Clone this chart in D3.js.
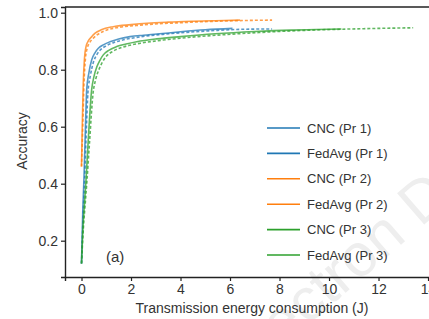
<!DOCTYPE html>
<html>
<head>
<meta charset="utf-8">
<script src="https://cdn.jsdelivr.net/npm/d3@7"></script>
<style>
  body { margin: 0; background: #fff; }
  svg { display: block; font-family: "Liberation Sans", Arial, sans-serif; }
</style>
</head>
<body>
<svg id="chart" width="429" height="319"></svg>
<script>
// series: energy (J) and accuracy
const cncPr1Energy = [0, 0.05, 0.1, 0.16, 0.21, 0.3, 0.41, 0.55, 0.68, 0.9, 1.15, 1.5, 1.96, 2.5, 3.04, 4.0, 5.0, 6.1];
const cncPr1Acc = [0.12, 0.3, 0.42, 0.6, 0.73, 0.79, 0.834, 0.86, 0.875, 0.888, 0.898, 0.908, 0.916, 0.921, 0.925, 0.933, 0.94, 0.945];
const fedPr1Energy = [0, 0.07, 0.13, 0.2, 0.26, 0.36, 0.48, 0.62, 0.77, 1.0, 1.3, 1.7, 2.2, 2.8, 3.4, 4.4, 5.5, 6.6, 7.7];
const fedPr1Acc = [0.12, 0.3, 0.42, 0.6, 0.72, 0.78, 0.826, 0.853, 0.87, 0.884, 0.895, 0.905, 0.913, 0.92, 0.925, 0.932, 0.938, 0.942, 0.943];

const cncPr2Energy = [0, 0.03, 0.07, 0.12, 0.18, 0.27, 0.4, 0.55, 0.8, 1.28, 2.0, 2.64, 3.5, 4.5, 5.4, 6.4];
const cncPr2Acc = [0.46, 0.6, 0.75, 0.84, 0.88, 0.9, 0.915, 0.928, 0.94, 0.951, 0.958, 0.963, 0.967, 0.97, 0.972, 0.974];
const fedPr2Energy = [0, 0.05, 0.1, 0.16, 0.23, 0.33, 0.47, 0.63, 0.9, 1.4, 2.2, 2.9, 3.8, 4.8, 5.8, 6.8, 7.7];
const fedPr2Acc = [0.46, 0.6, 0.75, 0.84, 0.875, 0.895, 0.91, 0.922, 0.935, 0.947, 0.955, 0.96, 0.964, 0.968, 0.971, 0.973, 0.974];

const cncPr3Energy = [0, 0.06, 0.12, 0.18, 0.27, 0.41, 0.5, 0.62, 0.75, 0.88, 1.1, 1.42, 1.8, 2.23, 3.04, 4.0, 5.4, 7.0, 8.44, 9.5, 10.5];
const cncPr3Acc = [0.12, 0.25, 0.33, 0.41, 0.55, 0.73, 0.775, 0.81, 0.834, 0.852, 0.868, 0.881, 0.89, 0.898, 0.908, 0.916, 0.926, 0.934, 0.939, 0.941, 0.943];
const fedPr3Energy = [0, 0.08, 0.15, 0.22, 0.32, 0.47, 0.57, 0.7, 0.84, 0.98, 1.22, 1.56, 1.96, 2.45, 3.3, 4.3, 5.8, 7.5, 9.0, 10.5, 12.0, 13.4];
const fedPr3Acc = [0.12, 0.25, 0.33, 0.41, 0.54, 0.72, 0.765, 0.8, 0.826, 0.845, 0.862, 0.876, 0.886, 0.894, 0.904, 0.913, 0.923, 0.932, 0.938, 0.942, 0.945, 0.947];

const seriesNames = ["CNC (Pr 1)", "FedAvg (Pr 1)", "CNC (Pr 2)", "FedAvg (Pr 2)", "CNC (Pr 3)", "FedAvg (Pr 3)"];
const seriesColors = ["#1f77b4", "#1f77b4", "#ff7f0e", "#ff7f0e", "#2ca02c", "#2ca02c"];
const xTicks = [0, 2, 4, 6, 8, 10, 12, 14];
const yTicks = [0.2, 0.4, 0.6, 0.8, 1.0];

const series = [
    [cncPr1Energy, cncPr1Acc], [fedPr1Energy, fedPr1Acc],
    [cncPr2Energy, cncPr2Acc], [fedPr2Energy, fedPr2Acc],
    [cncPr3Energy, cncPr3Acc], [fedPr3Energy, fedPr3Acc]
].map((s, i) => ({
    name: seriesNames[i],
    color: seriesColors[i],
    dashed: i % 2 == 1,
    points: s[0].map((e, j) => [e, s[1][j]])
}));

const plotLeft = 65, plotTop = 7, plotRight = 430, plotBottom = 277;
const svg = d3.select("#chart");

// faint watermark behind everything
svg.append("text")
    .attr("transform", "translate(282,348) rotate(-41)")
    .attr("font-size", 60)
    .attr("fill", "#eeeeee")
    .text("ectron D");

const xScale = d3.scaleLinear().domain([-0.667, 14.08]).range([plotLeft, plotRight]);
const yScale = d3.scaleLinear().domain([0.0726, 1.02]).range([plotBottom, plotTop]);

// curves
const line = d3.line()
    .x(d => xScale(d[0]))
    .y(d => yScale(d[1]))
    .curve(d3.curveMonotoneX);

svg.append("g").selectAll("path")
    .data(series)
    .enter()
    .append("path")
    .attr("d", d => line(d.points))
    .attr("fill", "none")
    .attr("stroke", d => d.color)
    .attr("stroke-width", 1.6)
    .attr("stroke-opacity", 0.75)
    .attr("stroke-dasharray", d => d.dashed ? "3,2" : null);

// frame top line
svg.append("line")
    .attr("x1", plotLeft).attr("x2", plotRight)
    .attr("y1", plotTop).attr("y2", plotTop)
    .attr("stroke", "#222").attr("stroke-width", 1.4);

// axes
const xAxis = svg.append("g")
    .attr("transform", `translate(0,${plotBottom})`)
    .call(d3.axisBottom(xScale).tickValues(xTicks).tickSize(4).tickPadding(3).tickFormat(d3.format("d")));
const yAxis = svg.append("g")
    .attr("transform", `translate(${plotLeft},0)`)
    .call(d3.axisLeft(yScale).tickValues(yTicks).tickSize(4).tickPadding(3).tickFormat(d3.format(".1f")));

[xAxis, yAxis].forEach(ax => {
    ax.select(".domain").attr("stroke", "#222").attr("stroke-width", 1.4);
    ax.selectAll(".tick line").attr("stroke", "#222").attr("stroke-width", 1.2);
    ax.selectAll(".tick text")
        .attr("fill", "#333")
        .attr("font-size", 14)
        .attr("font-family", "Liberation Sans, Arial, sans-serif");
});

// axis titles
svg.append("text")
    .attr("x", 252)
    .attr("y", 313)
    .attr("text-anchor", "middle")
    .attr("font-size", 14)
    .attr("fill", "#333")
    .text("Transmission energy consumption (J)");
svg.append("text")
    .attr("transform", "translate(27,141) rotate(-90)")
    .attr("text-anchor", "middle")
    .attr("font-size", 14)
    .attr("fill", "#333")
    .text("Accuracy");

svg.append("text")
    .attr("x", 106)
    .attr("y", 262)
    .attr("font-size", 15)
    .attr("fill", "#333")
    .text("(a)");

// legend
const legend = svg.append("g").selectAll("g")
    .data(series)
    .enter()
    .append("g")
    .attr("transform", (d, i) => `translate(267,${128 + i * 25.4})`);
legend.append("line")
    .attr("x1", 0).attr("x2", 33)
    .attr("stroke", d => d.color)
    .attr("stroke-width", 1.6);
legend.append("text")
    .attr("x", 40)
    .attr("y", 4.5)
    .attr("font-size", 13)
    .attr("fill", "#333")
    .text(d => d.name);
</script>
</body>
</html>
